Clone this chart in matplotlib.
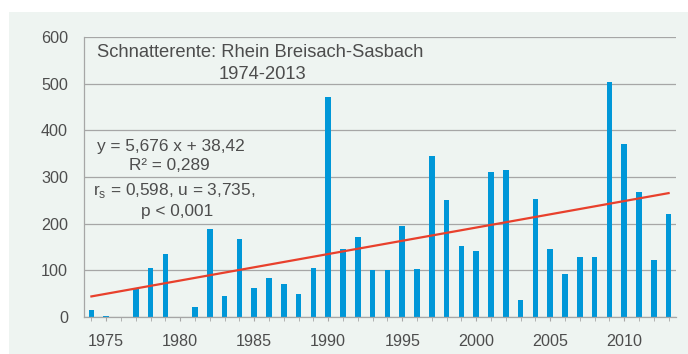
import matplotlib
matplotlib.use("Agg")
import matplotlib.pyplot as plt
from matplotlib.patches import Rectangle
import numpy as np

plt.rcParams['font.family'] = ['Liberation Sans', 'DejaVu Sans']

# Jahreswerte Schnatterente, Rhein Breisach-Sasbach
years = list(range(1974, 2014))
counts = [15, 2, 0, 60, 105, 135, 0, 22, 188, 45,
          167, 63, 83, 70, 50, 105, 472, 145, 172, 100,
          100, 195, 102, 345, 250, 153, 142, 311, 316, 36,
          253, 146, 92, 129, 129, 503, 370, 267, 122, 221]
y_ticks = [0, 100, 200, 300, 400, 500, 600]
x_labels = [1975, 1980, 1985, 1990, 1995, 2000, 2005, 2010]

# lineare Regression: y = 5,676 x + 38,42 (x = laufende Jahresnummer)
slope, intercept = 5.676, 38.42

bg = '#eef4f1'
grid_col = '#a6a6a6'
text_col = '#4d4d4d'

fig = plt.figure(figsize=(6.88, 3.54), dpi=100)
fig.patch.set_facecolor('white')
fig.patches.append(Rectangle((9 / 688, 0), 679 / 688, 342 / 354,
                             transform=fig.transFigure, facecolor=bg,
                             edgecolor='none', zorder=-5))

ax = fig.add_axes([84 / 688, 37 / 354, 592 / 688, 280 / 354])
ax.set_facecolor('none')

ax.bar(years, counts, width=0.38, color='#0097d8', zorder=2)

idx = np.arange(1, len(years) + 1)
ax.plot(years, slope * idx + intercept, color='#e8402c', lw=1.6, zorder=3)

ax.set_xlim(1973.5, 2013.5)
ax.set_ylim(0, 600)
ax.set_yticks(y_ticks)
ax.set_xticks(x_labels)
ax.set_xticks(years, minor=True)
ax.grid(axis='y', color=grid_col, lw=0.9, zorder=1)

for side in ['top', 'right']:
    ax.spines[side].set_visible(False)
ax.spines['left'].set_color(grid_col)
ax.spines['bottom'].set_color(grid_col)
ax.spines['left'].set_linewidth(0.9)
ax.spines['bottom'].set_linewidth(0.9)

ax.tick_params(axis='y', length=0, pad=11.5, labelsize=11.6, labelcolor=text_col)
ax.tick_params(axis='x', which='major', length=3, color=grid_col, pad=9,
               labelsize=11.6, labelcolor=text_col)
ax.tick_params(axis='x', which='minor', length=3, color=grid_col)

ax.text(0.022, 0.943, 'Schnatterente: Rhein Breisach-Sasbach', transform=ax.transAxes,
        fontsize=13.2, color=text_col, ha='left', va='center')
ax.text(0.301, 0.867, '1974-2013', transform=ax.transAxes,
        fontsize=13.2, color=text_col, ha='center', va='center')

stats = [
    ('y = 5,676 x + 38,42', 0.147, 0.609),
    ('R² = 0,289', 0.144, 0.541),
    (r'r$_\mathregular{s}$ = 0,598, u = 3,735,', 0.153, 0.452),
    ('p < 0,001', 0.157, 0.376),
]
for txt, tx, ty in stats:
    ax.text(tx, ty, txt, transform=ax.transAxes, fontsize=12.4,
            color=text_col, ha='center', va='center')

fig.savefig('out.png', dpi=100)
